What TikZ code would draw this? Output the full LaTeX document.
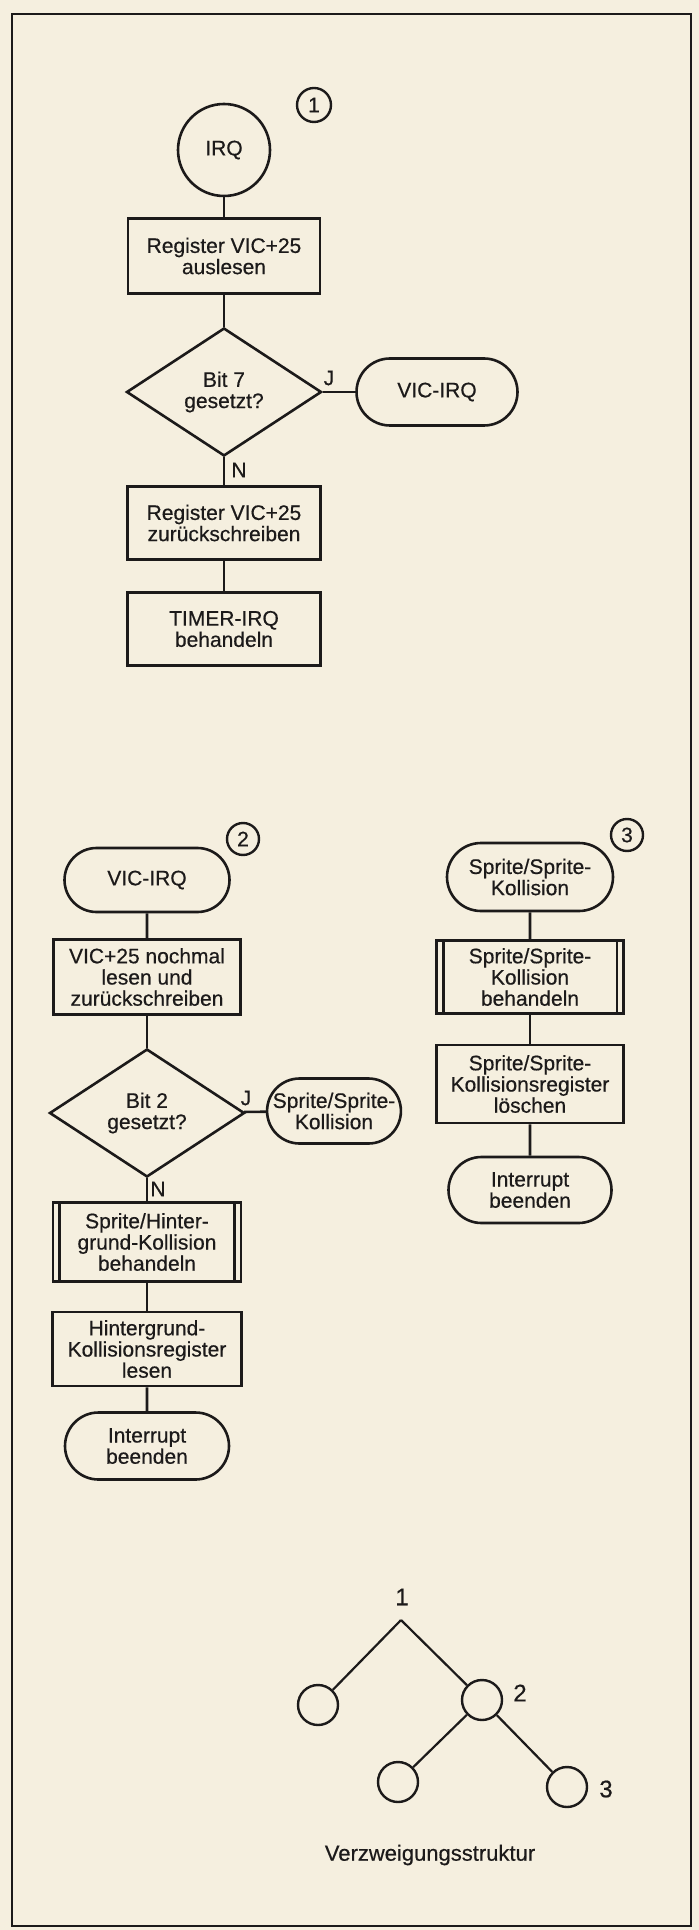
\documentclass[tikz,border=0pt]{standalone}
\usepackage{fontspec}
\setmainfont{Liberation Sans}
\newfontfamily\diagfont{Liberation Sans}[FakeBold=0.5]
\usetikzlibrary{shapes.geometric,shapes.misc}
\definecolor{paper}{RGB}{245,239,223}
\definecolor{ink}{RGB}{28,26,26}
\begin{document}
\begin{tikzpicture}[x=0.5pt,y=-0.5pt,
  every node/.style={font=\diagfont\fontsize{10.5}{10.6}\selectfont, text=ink, align=center, inner sep=0pt},
  line/.style={draw=ink, line width=1.3pt},
  procbox/.style={rectangle, draw=ink, line width=1.3pt},
  decis/.style={diamond, draw=ink, line width=1.3pt, minimum width=97.5pt, minimum height=64pt},
  term/.style={rounded rectangle, draw=ink, line width=1.3pt},
  treec/.style={circle, draw=ink, line width=1.2pt, minimum size=20pt},
  lbl/.style={font=\diagfont\fontsize{10.5}{10.6}\selectfont},
  biglbl/.style={font=\diagfont\fontsize{12}{13}\selectfont},
  caplbl/.style={font=\diagfont\fontsize{11}{12}\selectfont}
]
\useasboundingbox (0,0) rectangle (699,1930);
\fill[paper] (0,0) rectangle (699,1930);
\draw[ink, line width=1.1pt] (12,14) rectangle (691,1926);

% ---------- Flowchart 1 ----------
\node[circle, draw=ink, line width=1.3pt, minimum size=46pt] (irq) at (224,150) {IRQ};
\node[circle, draw=ink, line width=1.2pt, minimum size=17pt] (n1) at (314,105) {1};
\node[procbox, minimum width=96pt, minimum height=37.5pt] (b1) at (224,256) {Register VIC+25\\auslesen};
\node[decis] (d1) at (224,392) {Bit 7\\gesetzt?};
\node[term, minimum width=80.5pt, minimum height=33.5pt] (v1) at (437,392) {VIC-IRQ};
\node[lbl] (j1) at (329,378) {J};
\node[lbl] (m1) at (239,470) {N};
\node[procbox, minimum width=96.5pt, minimum height=36.5pt] (b2) at (224,523) {Register VIC+25\\zurückschreiben};
\node[procbox, minimum width=96.5pt, minimum height=36.5pt] (b3) at (224,629) {TIMER-IRQ\\behandeln};
\draw[line] (irq) -- (b1);
\draw[line] (b1) -- (d1);
\draw[line] (d1) -- (v1);
\draw[line] (d1) -- (b2);
\draw[line] (b2) -- (b3);

% ---------- Flowchart 2 ----------
\node[term, minimum width=82.5pt, minimum height=32pt] (v2) at (147,880) {VIC-IRQ};
\node[circle, draw=ink, line width=1.2pt, minimum size=16pt] (n2) at (243,839) {2};
\node[procbox, minimum width=93.5pt, minimum height=37.5pt] (c1) at (147,977) {VIC+25 nochmal\\lesen und\\zurückschreiben};
\node[decis] (d2) at (147,1113) {Bit 2\\gesetzt?};
\node[term, minimum width=66.5pt, minimum height=32.5pt] (s1) at (334,1111) {Sprite/Sprite-\\Kollision};
\node[lbl] (j2) at (246,1098) {J};
\node[lbl] (m2) at (158,1189) {N};
\node[procbox, minimum width=94pt, minimum height=39.5pt] (c2) at (147,1242) {Sprite/Hinter-\\grund-Kollision\\behandeln};
\draw[line] ([xshift=4pt]c2.north west) -- ([xshift=4pt]c2.south west);
\draw[line] ([xshift=-4pt]c2.north east) -- ([xshift=-4pt]c2.south east);
\node[procbox, minimum width=94.5pt, minimum height=37pt] (c3) at (147,1349) {Hintergrund-\\Kollisionsregister\\lesen};
\node[term, minimum width=82pt, minimum height=33.5pt] (e2) at (147,1446) {Interrupt\\beenden};
\draw[line] (v2) -- (c1);
\draw[line] (c1) -- (d2);
\draw[line] (d2) -- (s1);
\draw[line] (d2) -- (c2);
\draw[line] (c2) -- (c3);
\draw[line] (c3) -- (e2);

% ---------- Flowchart 3 ----------
\node[term, minimum width=83pt, minimum height=34pt] (s2) at (530,877) {Sprite/Sprite-\\Kollision};
\node[circle, draw=ink, line width=1.2pt, minimum size=16pt] (n3) at (627,835) {3};
\node[procbox, minimum width=93.5pt, minimum height=36.5pt] (k1) at (530,977) {Sprite/Sprite-\\Kollision\\behandeln};
\draw[line] ([xshift=4pt]k1.north west) -- ([xshift=4pt]k1.south west);
\draw[line] ([xshift=-4pt]k1.north east) -- ([xshift=-4pt]k1.south east);
\node[procbox, minimum width=93.5pt, minimum height=39pt] (k2) at (530,1084) {Sprite/Sprite-\\Kollisionsregister\\löschen};
\node[term, minimum width=81.5pt, minimum height=33pt] (e3) at (530,1190) {Interrupt\\beenden};
\draw[line] (s2) -- (k1);
\draw[line] (k1) -- (k2);
\draw[line] (k2) -- (e3);

% ---------- Tree ----------
\coordinate (t1) at (401,1620);
\node[treec] (tl) at (318,1705) {};
\node[treec] (t2) at (482,1700) {};
\node[treec] (tb) at (398,1782) {};
\node[treec] (t3) at (567,1787) {};
\node[biglbl] (l1) at (402,1597) {1};
\node[biglbl] (l2) at (520,1693) {2};
\node[biglbl] (l3) at (606,1789) {3};
\draw[ink, line width=1.1pt] (t1) -- (tl);
\draw[ink, line width=1.1pt] (t1) -- (t2);
\draw[ink, line width=1.1pt] (t2) -- (tb);
\draw[ink, line width=1.1pt] (t2) -- (t3);
\node[caplbl] (cap) at (430,1855) {Verzweigungsstruktur};
\end{tikzpicture}
\end{document}
